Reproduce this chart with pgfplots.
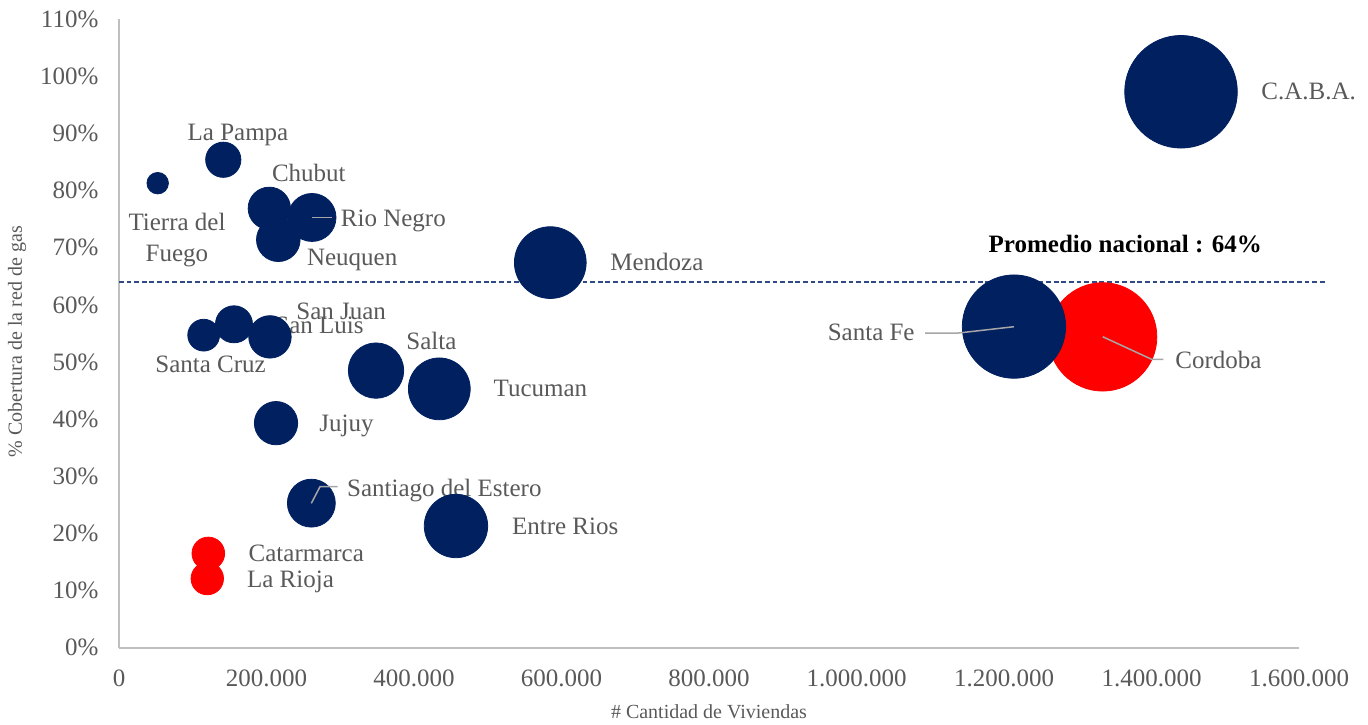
\documentclass[border=0pt]{standalone}
\usepackage{pgfplots}
\pgfplotsset{compat=1.18}
\usepackage{pgfplotstable}
\usepackage{fontspec}
\setmainfont{Liberation Serif}
\definecolor{navy}{HTML}{002060}
\definecolor{bred}{HTML}{FF0000}
\definecolor{lblgray}{HTML}{595959}
\definecolor{axgray}{HTML}{BFBFBF}
\definecolor{leadgray}{HTML}{A6A6A6}
\definecolor{dashblue}{HTML}{2F4A85}
\newcommand\lf{\fontsize{12.5}{15}\selectfont}
\newcommand\af{\fontsize{10}{12}\selectfont}
\tikzset{lbl/.style={font=\lf, text=lblgray, inner sep=0pt, anchor=base west}}

% x = cantidad de viviendas, y = % cobertura, s = bubble size (miles de viviendas)
\pgfplotstableread{
name x y s
TierraDelFuego 52470 81.3 52.47
LaPampa 141400 85.4 141.4
Chubut 203800 76.9 203.8
RioNegro 261700 75.3 261.7
Neuquen 216000 71.4 216.0
Mendoza 584800 67.4 584.8
CABA 1440000 97.3 1440.0
SantaFe 1213500 56.2 1213.5
SantaCruz 114800 54.7 114.8
SanJuan 155900 56.6 155.9
SanLuis 204700 54.4 204.7
Salta 348500 48.5 348.5
Tucuman 434300 45.3 434.3
Jujuy 212900 39.3 212.9
SantiagoDelEstero 260800 25.3 260.8
EntreRios 456900 21.3 456.9
}\navydata

\pgfplotstableread{
name x y s
Cordoba 1333800 54.4 1333.8
Catamarca 121100 16.5 121.1
LaRioja 119700 12.1 119.7
}\reddata

\begin{document}
\begin{tikzpicture}
\begin{axis}[
  set layers,
  at={(0,0)}, anchor=south west,
  scale only axis, width=590pt, height=314.25pt,
  xmin=0, xmax=1600000, ymin=0, ymax=110,
  axis x line*=bottom, axis y line*=left,
  axis line style={axgray, line width=1pt},
  major tick length=0pt,
  xtick={0,200000,400000,600000,800000,1000000,1200000,1400000,1600000},
  ytick={0,10,20,30,40,50,60,70,80,90,100,110},
  scaled x ticks=false,
  /pgf/number format/assume math mode=true,
  /pgf/number format/1000 sep={.},
  /pgf/number format/fixed,
  xticklabel style={font=\lf, text=lblgray, anchor=north, yshift=-7.6pt},
  yticklabel style={font=\lf, text=lblgray, anchor=east, xshift=-6.8pt},
  yticklabel={\pgfmathprintnumber{\tick}\%},
  xlabel={\# Cantidad de Viviendas},
  ylabel={\% Cobertura de la red de gas},
  xlabel style={font=\af, text=lblgray, at={(axis description cs:0.5,-0.1018)}, anchor=center},
  ylabel style={font=\af, text=lblgray, at={(axis description cs:-0.0864,0.487)}, anchor=center},
  clip=false,
  leader/.style={leadgray, line width=0.75pt, no marks, forget plot, on layer=axis foreground},
]
% national average line
\addplot[dashblue, line width=0.75pt, dash pattern=on 2.4pt off 1.4pt, forget plot]
  coordinates {(0,64) (1635000,64)};

% red bubbles
\addplot[scatter, only marks, mark=*,
  scatter/use mapped color={draw=bred, fill=bred},
  visualization depends on={0.7416*sqrt(\thisrow{s}) \as \rad},
  scatter/@pre marker code/.append style={/tikz/mark size=\rad},
] table[x=x, y=y] {\reddata};

% navy bubbles
\addplot[scatter, only marks, mark=*,
  scatter/use mapped color={draw=navy, fill=navy},
  visualization depends on={0.7416*sqrt(\thisrow{s}) \as \rad},
  scatter/@pre marker code/.append style={/tikz/mark size=\rad},
] table[x=x, y=y] {\navydata};

% leader lines
\addplot[leader] coordinates {(261700,75.32) (288820,75.32)};
\addplot[leader] coordinates {(260740,25.27) (272540,28.18) (296540,28.18)};
\addplot[leader] coordinates {(1213500,56.18) (1137600,55.07) (1092860,55.07)};
\addplot[leader] coordinates {(1333800,54.43) (1400260,50.47) (1415990,50.47)};

% labels
\node[lbl] at (axis cs:1548400,96.03) {C.A.B.A.};
\node[lbl] at (axis cs:92600,88.73) {La Pampa};
\node[lbl] at (axis cs:207000,81.55) {Chubut};
\node[lbl, anchor=base] at (axis cs:78640,72.98) {Tierra del};
\node[lbl, anchor=base] at (axis cs:78640,67.55) {Fuego};
\node[lbl] at (axis cs:300460,73.80) {Rio Negro};
\node[lbl] at (axis cs:254500,66.85) {Neuquen};
\node[lbl] at (axis cs:665750,65.98) {Mendoza};
\node[lbl] at (axis cs:240000,57.47) {San Juan};
\node[lbl] at (axis cs:211520,55.02) {San Luis};
\node[lbl] at (axis cs:48810,48.20) {Santa Cruz};
\node[lbl] at (axis cs:389140,52.27) {Salta};
\node[lbl] at (axis cs:507500,43.93) {Tucuman};
\node[lbl] at (axis cs:271180,37.80) {Jujuy};
\node[lbl] at (axis cs:308740,26.55) {Santiago del Estero};
\node[lbl] at (axis cs:532460,19.90) {Entre Rios};
\node[lbl] at (axis cs:175320,15.05) {Catarmarca};
\node[lbl] at (axis cs:173150,10.57) {La Rioja};
\node[lbl, anchor=base east] at (axis cs:1079300,53.68) {Santa Fe};
\node[lbl] at (axis cs:1431850,48.95) {Cordoba};
\node[lbl, text=black, font=\lf\bfseries] at (axis cs:1178700,69.13) {Promedio nacional : 64\%};
\end{axis}
\pgfresetboundingbox
\path (-59.5pt,-38.15pt) rectangle (624.5pt,323.85pt);
\end{tikzpicture}
\end{document}
